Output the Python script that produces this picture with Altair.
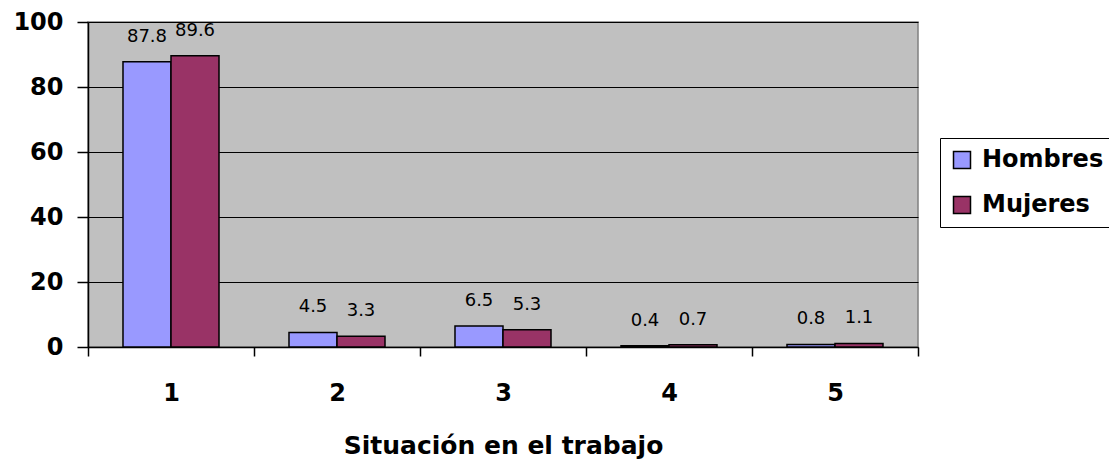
import altair as alt
import pandas as pd

categorias = ["1", "2", "3", "4", "5"]
series = ["Hombres", "Mujeres"]
hombres = [87.8, 4.5, 6.5, 0.4, 0.8]
mujeres = [89.6, 3.3, 5.3, 0.7, 1.1]
colores = ["#9999FF", "#993366"]
y_ticks = [0, 20, 40, 60, 80, 100]

rows = []
for i, c in enumerate(categorias):
    rows.append({"cat": c, "serie": "Hombres", "valor": hombres[i]})
    rows.append({"cat": c, "serie": "Mujeres", "valor": mujeres[i]})
df = pd.DataFrame(rows)
df["etiqueta"] = df["valor"].map(lambda v: f"{v:.1f}")

FONT = "DejaVu Sans"

x = alt.X(
    "cat:N",
    sort=categorias,
    title="Situación en el trabajo",
    scale=alt.Scale(paddingInner=0, paddingOuter=0),
    axis=alt.Axis(
        labelAngle=0, tickBand="extent", tickSize=9, labelPadding=25,
        labelFont=FONT, labelFontWeight="bold", labelFontSize=24,
        titleFont=FONT, titleFontWeight="bold", titleFontSize=25, titlePadding=28,
        domainColor="black", tickColor="black", labelColor="black", titleColor="black",
        domainWidth=1.5, tickWidth=1.5,
    ),
)
xo = alt.XOffset("serie:N", sort=series,
                 scale=alt.Scale(paddingInner=0, paddingOuter=0.729))
y = alt.Y(
    "valor:Q",
    scale=alt.Scale(domain=[0, 100], nice=False),
    axis=alt.Axis(
        values=y_ticks, title=None, grid=True, gridColor="black", gridWidth=1,
        tickSize=11, labelPadding=14, labelFont=FONT, labelFontWeight="bold",
        labelFontSize=24, labelColor="black", domainColor="black", tickColor="black",
        domainWidth=1.5, tickWidth=1.5,
    ),
)

bars = alt.Chart(df).mark_bar(stroke="black", strokeWidth=1.5).encode(
    x=x,
    xOffset=xo,
    y=y,
    fill=alt.Fill(
        "serie:N",
        sort=series,
        scale=alt.Scale(domain=series, range=colores),
        legend=alt.Legend(
            title=None, orient="none", legendX=852, legendY=116,
            symbolType="square", symbolSize=289, symbolStrokeColor="black",
            symbolStrokeWidth=1.5, symbolOpacity=1,
            labelFont=FONT, labelFontWeight="bold", labelFontSize=24, labelColor="black",
            strokeColor="black", fillColor="white", padding=10, rowPadding=21,
            labelOffset=8,
        ),
    ),
)

labels = alt.Chart(df).mark_text(
    dy=-25, baseline="middle", align="center", font=FONT, fontSize=18, color="black"
).encode(
    x=x,
    xOffset=xo,
    y=y,
    text="etiqueta:N",
)

chart = (
    alt.layer(bars, labels)
    .properties(
        width=830, height=325,
        autosize=alt.AutoSizeParams(type="none"),
        padding={"left": 80, "top": 14, "right": 191, "bottom": 113},
    )
    .configure(background="white")
    .configure_view(fill="#C0C0C0", stroke="#808080", strokeWidth=1.5)
)

chart.save("out.html", embed_options={"renderer": "svg", "actions": False})
